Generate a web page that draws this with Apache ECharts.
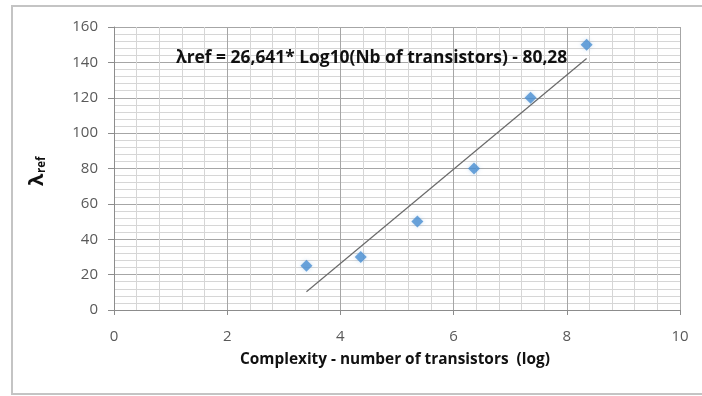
<!DOCTYPE html>
<html><head><meta charset="utf-8">
<script src="https://cdn.jsdelivr.net/npm/echarts@6/dist/echarts.min.js"></script>
<style>html,body{margin:0;padding:0;background:#fff}#c{width:702px;height:396px}</style>
</head><body><div id="c"></div>
<script>
// Data
const complexityLog = [3.4, 4.36, 5.36, 6.36, 7.36, 8.35];
const lambdaRef = [25, 30, 50, 80, 120, 150];
const trendX = [3.4, 8.35];
const trendY = [10.3, 142.2];
const xTicks = [0, 2, 4, 6, 8, 10];
const yTicks = [0, 20, 40, 60, 80, 100, 120, 140, 160];
const equationText = 'λref = 26,641* Log10(Nb of transistors) - 80,28';
const xTitle = 'Complexity - number of transistors  (log)';
const yTitleMain = 'λ';
const yTitleSub = 'ref';

const chart = echarts.init(document.getElementById('c'), null, {renderer: 'canvas'});
const font = '"Open Sans", "Liberation Sans", sans-serif';
chart.setOption({
  animation: false,
  backgroundColor: '#fff',
  grid: {left: 114, right: 22, top: 27, bottom: 86},
  graphic: [
    {type: 'rect', shape: {x: 12, y: 6, width: 720, height: 388}, style: {fill: 'none', stroke: '#c4c4c4', lineWidth: 2}, z: 100},
    {type: 'text', left: 176, top: 50, style: {text: equationText, font: 'bold 17.4px ' + font, fill: '#111'}, z: 50},
    {type: 'text', left: 240, top: 352, style: {text: xTitle, font: 'bold 15.4px ' + font, fill: '#111'}},
    {type: 'text', x: 37, y: 186, rotation: Math.PI / 2,
      style: {text: yTitleMain, font: 'bold 20px ' + font, fill: '#111', verticalAlign: 'middle', align: 'left'}},
    {type: 'text', x: 42, y: 173, rotation: Math.PI / 2,
      style: {text: yTitleSub, font: 'bold 11.5px ' + font, fill: '#111', verticalAlign: 'middle', align: 'left'}}
  ],
  xAxis: {
    type: 'value', min: xTicks[0], max: xTicks[xTicks.length - 1], interval: 2,
    axisLine: {show: true, onZero: false, lineStyle: {color: '#8c8c8c', width: 1}},
    axisTick: {show: true, length: 5, lineStyle: {color: '#8c8c8c'}},
    axisLabel: {color: '#595959', fontSize: 15, fontFamily: font, margin: 19},
    splitLine: {show: true, lineStyle: {color: '#a6a6a6', width: 1}},
    minorTick: {show: false, splitNumber: 5},
    minorSplitLine: {show: true, lineStyle: {color: '#d6d6d6', width: 1}}
  },
  yAxis: {
    type: 'value', min: yTicks[0], max: yTicks[yTicks.length - 1], interval: 20,
    axisLine: {show: true, onZero: false, lineStyle: {color: '#8c8c8c', width: 1}},
    axisTick: {show: true, length: 6, lineStyle: {color: '#8c8c8c'}},
    axisLabel: {color: '#595959', fontSize: 15, fontFamily: font, margin: 16},
    splitLine: {show: true, lineStyle: {color: '#a6a6a6', width: 1}},
    minorTick: {show: false, splitNumber: 5},
    minorSplitLine: {show: true, lineStyle: {color: '#d6d6d6', width: 1}}
  },
  series: [
    {type: 'line', data: trendX.map((x, i) => [x, trendY[i]]), symbol: 'none',
      lineStyle: {color: '#6a6a6a', width: 1.2}, z: 3},
    {type: 'scatter', data: complexityLog.map((x, i) => [x, lambdaRef[i]]), symbol: 'diamond', symbolSize: 12,
      itemStyle: {color: '#4a8fd2', shadowColor: 'rgba(74,143,210,0.35)', shadowBlur: 4}, z: 4}
  ]
});
</script></body></html>
